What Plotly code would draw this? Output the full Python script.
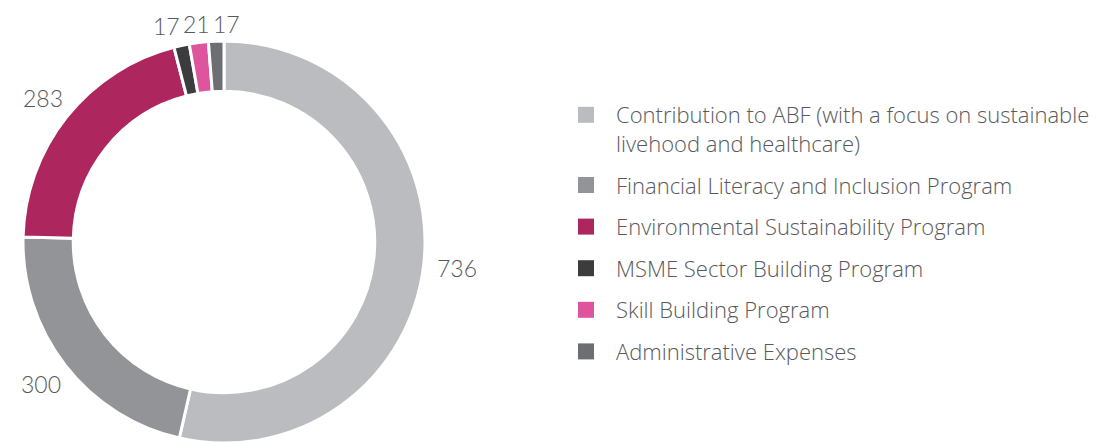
import math
import plotly.graph_objects as go

categories = [
    "Contribution to ABF (with a focus on sustainable<br>livehood and healthcare)",
    "Financial Literacy and Inclusion Program",
    "Environmental Sustainability Program",
    "MSME Sector Building Program",
    "Skill Building Program",
    "Administrative Expenses",
]
values = [736, 300, 283, 17, 21, 17]
colors = ["#BBBCC0", "#939498", "#AE265E", "#3C3C3E", "#DE559D", "#6D6E72"]

W, H = 1104, 443
LBL_FONT = "Lato"
LEG_FONT = "Open Sans"
TXT = "#58595B"
LBL_SIZE = 23

# pie geometry (pixels)
cx, cy, R = 224, 242, 201
dom_x = [(cx - R) / W, (cx + R) / W]
dom_y = [max(0.0, 1 - (cy + R) / H), 1 - (cy - R) / H]

fig = go.Figure()
fig.add_trace(go.Pie(
    labels=categories, values=values, sort=False, direction="clockwise", rotation=0,
    hole=0.75, marker=dict(colors=colors, line=dict(color="white", width=3)),
    textinfo="none", hoverinfo="label+value", showlegend=False,
    domain=dict(x=dom_x, y=dom_y),
))

# legend entries
for i, (c, col) in enumerate(zip(categories, colors)):
    fig.add_trace(go.Scatter(
        x=[None], y=[None], mode="markers", name=c, legendgroup=str(i),
        marker=dict(symbol="square", size=16, color=col),
    ))

# value labels placed around the ring from the data angles
total = sum(values)
cum = 0
labels = []
for v in values:
    mid = (cum + v / 2) / total * 2 * math.pi
    cum += v
    s, c = math.sin(mid), math.cos(mid)
    txt = str(v)
    hw = 0.275 * LBL_SIZE * len(txt)
    hh = 3
    rl = R + 14 + abs(s) * hw + abs(c) * hh
    labels.append([cx + rl * s, cy - rl * c, hw, 8, txt])

# simple collision relaxation (horizontal)
for _ in range(20):
    for i in range(len(labels)):
        for j in range(i + 1, len(labels)):
            a, b = labels[i], labels[j]
            if abs(a[1] - b[1]) < a[3] + b[3]:
                need = a[2] + b[2] + 5
                dx = b[0] - a[0]
                if abs(dx) < need:
                    d = (need - abs(dx)) / 2
                    sgn = 1 if dx >= 0 else -1
                    a[0] -= sgn * d
                    b[0] += sgn * d

for px, py, hw, hh, txt in labels:
    fig.add_annotation(
        x=px / W, y=1 - py / H, xref="paper", yref="paper", text=txt,
        showarrow=False, xanchor="center", yanchor="middle",
        font=dict(family=LBL_FONT, size=LBL_SIZE, color=TXT, weight=300),
    )

fig.update_layout(
    width=W, height=H, margin=dict(l=0, r=0, t=0, b=0),
    paper_bgcolor="white", plot_bgcolor="white",
    xaxis=dict(visible=False), yaxis=dict(visible=False),
    showlegend=True,
    legend=dict(
        x=556 / W, y=1 - 94 / H, xanchor="left", yanchor="top",
        traceorder="grouped", tracegroupgap=10, valign="top", itemwidth=50,
        font=dict(family=LEG_FONT, size=22, color=TXT, weight=300),
        bgcolor="rgba(0,0,0,0)",
    ),
)

fig.write_html("out.html", config={"displayModeBar": False},
               post_script="document.body.style.margin='0px';")
